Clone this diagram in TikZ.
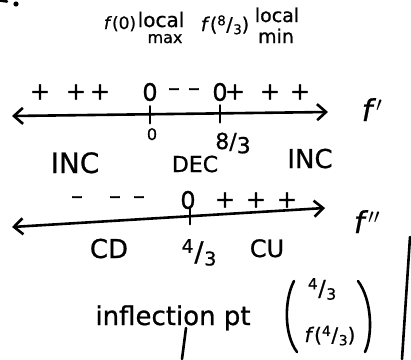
\documentclass[tikz,border=0pt]{standalone}
\usepackage{fontspec}
\setmainfont{DejaVu Sans}[FakeBold=0.8]
\usetikzlibrary{arrows.meta}
\newcommand\hfr[2]{\raisebox{0.55ex}{\scalebox{0.7}{#1}}\kern0.03em/\kern0.03em\raisebox{-0.3ex}{\scalebox{0.7}{#2}}}
\newcommand\fs[1]{\fontsize{#1}{#1}\selectfont}
\tikzset{
  ink/.style={line width=2.6pt, line cap=round, line join=round},
  barb/.tip={Straight Barb[length=9pt,width=16pt]},
  numline/.style={ink, barb-barb},
  txt/.style={inner sep=0pt, anchor=base},
  signtxt/.style={inner sep=0pt, font=\fs{24}},
}
\begin{document}
\begin{tikzpicture}[x=1pt,y=-1pt]
\useasboundingbox (0,0) rectangle (411,359);
% stray marks top-left
\fill (16,4) circle (2.6);
\draw[ink] (0,0.5) -- (7,1.5);
% top labels
\node[txt, font=\fs{17}] (f0) at (120,29) {\textit{f}(0)};
\node[txt, font=\fs{20}] (loc1) at (161,27) {local};
\node[txt, font=\fs{16}] (max) at (165,43) {max};
\node[txt, font=\fs{19}] (f83) at (225,31) {\textit{f}(\hfr{8}{3})};
\node[txt, font=\fs{19}] (loc2) at (277,22) {local};
\node[txt, font=\fs{19}] (min) at (276,43) {min};
% first number line (f')
\coordinate (L1a) at (12,116);
\coordinate (L1b) at (328,112);
\draw[numline] (L1a) -- (L1b);
\path (L1a) -- (L1b) coordinate[pos=0.437] (t0) coordinate[pos=0.658] (t83);
\draw[ink] (t0) ++(0,-8) -- ++(0,17);
\draw[ink] (t83) ++(0,-8) -- ++(0,17);
\foreach \x/\s [count=\i] in {40/+,76/+,100/+,150/0,174/--,194/--,220/0,235/+,270/+,300/+}
  \node[signtxt] (sa\i) at (\x,92) {\s};
\node[txt, font=\fs{30}] (fp) at (372,121) {\textit{f}$'$};
\node[txt, font=\fs{16}] (z0) at (152,140) {0};
\node[txt, font=\fs{22}] (z83) at (233,149) {8/\raisebox{-0.35ex}{3}};
\node[txt, font=\fs{28}] (inc1) at (75,173) {INC};
\node[txt, font=\fs{22}] (dec) at (195,172) {DEC};
\node[txt, font=\fs{26}] (inc2) at (310,168) {INC};
% second number line (f'')
\foreach \x/\s [count=\i] in {77/--,115/--,139/--,188/0,225/+,256/+,287/+}
  \node[signtxt] (sb\i) at (\x,200) {\s};
\coordinate (L2a) at (12,227);
\coordinate (L2b) at (325,208);
\draw[numline] (L2a) -- (L2b);
\path (L2a) -- (L2b) coordinate[pos=0.569] (t43);
\draw[ink] (t43) ++(0,-8) -- ++(0,16);
\node[txt, font=\fs{30}] (fpp) at (367,233) {\textit{f}$''$};
\node[txt, font=\fs{26}] (cd) at (109,258) {CD};
\node[txt, font=\fs{27}] (z43) at (199,261) {\hfr{4}{3}};
\node[txt, font=\fs{24}] (cu) at (267,257) {CU};
% inflection point
\node[txt, font=\fs{26}] (infl) at (173,325) {inflection pt};
\draw[ink] (294,281) .. controls (284,300) and (284,335) .. (297,352);
\draw[ink] (358,281) .. controls (372,300) and (373,335) .. (365,352);
\node[txt, font=\fs{22}] (px) at (322,296) {\hfr{4}{3}};
\node[txt, font=\fs{20}] (py) at (330,342) {\textit{f}(\hfr{4}{3})};
\coordinate (s1) at (186,328);
\coordinate (s2) at (182,359);
\draw[ink] (s1) -- (s2);
\coordinate (r1) at (410,237);
\coordinate (r2) at (402,359);
\draw[ink] (r1) -- (r2);
\end{tikzpicture}
\end{document}
